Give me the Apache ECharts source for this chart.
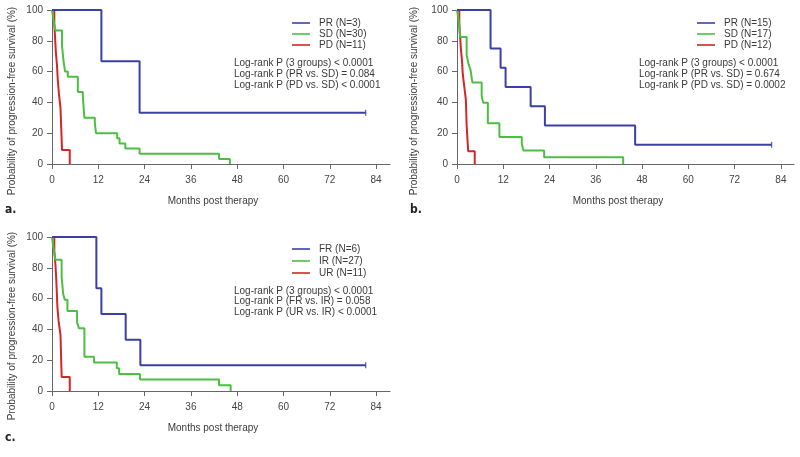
<!DOCTYPE html>
<html><head><meta charset="utf-8">
<script src="https://cdn.jsdelivr.net/npm/echarts@6/dist/echarts.min.js"></script>
<style>html,body{margin:0;padding:0;background:#fff}#c{width:800px;height:457px}</style>
</head><body><div id="c"></div>
<script>
// ---------- tick labels ----------
const xTicks = [0, 12, 24, 36, 48, 60, 72, 84];
const yTicks = [0, 20, 40, 60, 80, 100];

// ---------- panel a ----------
const aPrTime = [0, 12.8, 22.7, 81.3];
const aPrSurv = [100, 66.7, 33.3, 33.3];
const aSdTime = [0, 0.4, 0.9, 2.6, 3.0, 3.4, 4.1, 6.7, 8.0, 8.4, 11.1, 11.4, 16.9, 17.5, 19.0, 22.7, 43.3, 46.1];
const aSdSurv = [100, 93.3, 86.7, 76.7, 66.7, 60.0, 56.7, 46.7, 43.3, 30.0, 26.7, 20.0, 16.7, 13.3, 10.0, 6.7, 3.3, 0];
const aPdTime = [0, 0.6, 0.8, 1.0, 1.3, 1.5, 1.8, 2.2, 2.6, 4.6];
const aPdSurv = [100, 90.9, 81.8, 72.7, 63.6, 54.5, 45.5, 36.4, 9.1, 0];
const aLegend = ['PR (N=3)', 'SD (N=30)', 'PD (N=11)'];
const aStats = ['Log-rank P (3 groups) < 0.0001', 'Log-rank P (PR vs. SD) = 0.084', 'Log-rank P (PD vs. SD) < 0.0001'];

// ---------- panel b ----------
const bPrTime = [0, 8.7, 11.3, 12.6, 19.1, 22.8, 46.2, 81.6];
const bPrSurv = [100, 75, 62.5, 50, 37.5, 25, 12.5, 12.5];
const bSdTime = [0, 0.4, 0.8, 2.5, 3.0, 3.5, 4.0, 6.4, 6.8, 8.0, 11.0, 16.8, 17.2, 22.6, 43.1];
const bSdSurv = [100, 94.1, 82.4, 70.6, 64.7, 61.2, 52.9, 44.1, 39.7, 26.5, 17.6, 13.2, 8.8, 4.4, 0];
const bPdTime = [0, 0.6, 0.8, 1.0, 1.3, 1.5, 1.9, 2.3, 2.5, 2.9, 4.6];
const bPdSurv = [100, 91.7, 83.3, 75, 66.7, 58.3, 50, 41.7, 25, 8.3, 0];
const bLegend = ['PR (N=15)', 'SD (N=17)', 'PD (N=12)'];
const bStats = ['Log-rank P (3 groups) < 0.0001', 'Log-rank P (PR vs. SD) = 0.674', 'Log-rank P (PD vs. SD) = 0.0002'];

// ---------- panel c ----------
const cFrTime = [0, 11.5, 12.8, 19.1, 22.9, 81.3];
const cFrSurv = [100, 66.7, 50, 33.3, 16.7, 16.7];
const cIrTime = [0, 0.4, 0.9, 2.5, 2.9, 3.3, 4.0, 6.5, 7.0, 8.4, 10.9, 16.8, 17.4, 22.8, 43.3, 46.3];
const cIrSurv = [100, 92.6, 85.2, 74.1, 63.0, 59.3, 51.9, 44.4, 40.7, 22.2, 18.5, 14.8, 11.1, 7.4, 3.7, 0];
const cUrTime = [0, 0.6, 0.9, 1.1, 1.4, 1.7, 2.2, 2.5, 4.6];
const cUrSurv = [100, 90.9, 81.8, 72.7, 54.5, 45.5, 36.4, 9.1, 0];
const cLegend = ['FR (N=6)', 'IR (N=27)', 'UR (N=11)'];
const cStats = ['Log-rank P (3 groups) < 0.0001', 'Log-rank P (FR vs. IR) = 0.058', 'Log-rank P (UR vs. IR) < 0.0001'];

const panelLetters = ['a.', 'b.', 'c.'];
const xTitle = 'Months post therapy';
const yTitle = 'Probability of progression-free survival (%)';

// ---------- styling / layout ----------
const COLORS = ['#3d3fa8', '#4cbf42', '#d42626'];
const FONT = "'Liberation Sans', Arial, Helvetica, sans-serif";
const AXIS_COL = '#666';
const TEXT_COL = '#3a3a3a';

const panels = [
  { grid: { left: 52, top: 10, width: 338, height: 154 }, xMax: 87.6,
    series: [[aPrTime, aPrSurv], [aSdTime, aSdSurv], [aPdTime, aPdSurv]],
    legend: aLegend, stats: aStats,
    legX: 292, legY: [23, 34, 45], statX: 234, statY: [63, 74, 85],
    xTitlePos: [213, 201], yTitlePos: [12, 101], letterPos: [5, 210] },
  { grid: { left: 457, top: 10, width: 337, height: 154 }, xMax: 87.4,
    series: [[bPrTime, bPrSurv], [bSdTime, bSdSurv], [bPdTime, bPdSurv]],
    legend: bLegend, stats: bStats,
    legX: 697, legY: [23, 34, 45], statX: 639, statY: [63, 74, 85],
    xTitlePos: [618, 201], yTitlePos: [414, 101], letterPos: [410, 210] },
  { grid: { left: 52, top: 237, width: 338, height: 154 }, xMax: 87.6,
    series: [[cFrTime, cFrSurv], [cIrTime, cIrSurv], [cUrTime, cUrSurv]],
    legend: cLegend, stats: cStats,
    legX: 292, legY: [249, 261, 273], statX: 234, statY: [291, 301, 312],
    xTitlePos: [213, 428], yTitlePos: [12, 326], letterPos: [5, 438] }
];

const zip = (t, s) => t.map((v, i) => [v, s[i]]);

const grids = [], xAxes = [], yAxes = [], series = [], graphics = [];
panels.forEach((p, pi) => {
  grids.push(Object.assign({ containLabel: false }, p.grid));
  xAxes.push({
    type: 'value', gridIndex: pi, min: 0, max: p.xMax,
    axisLine: { show: true, onZero: false, lineStyle: { color: AXIS_COL, width: 1 } },
    axisTick: { show: true, customValues: xTicks, length: 5, lineStyle: { color: AXIS_COL } },
    axisLabel: { customValues: xTicks, fontSize: 10, color: '#444', margin: 11, fontFamily: FONT },
    splitLine: { show: false }
  });
  yAxes.push({
    type: 'value', gridIndex: pi, min: 0, max: 100, interval: 20,
    axisLine: { show: true, onZero: false, lineStyle: { color: AXIS_COL, width: 1 } },
    axisTick: { show: true, length: 5, lineStyle: { color: AXIS_COL } },
    axisLabel: { customValues: yTicks, fontSize: 10, color: '#444', margin: 9, fontFamily: FONT },
    splitLine: { show: false }
  });
  p.series.forEach((ts, si) => {
    series.push({
      type: 'line', name: p.legend[si], xAxisIndex: pi, yAxisIndex: pi,
      step: 'end', showSymbol: false, silent: true, animation: false,
      data: zip(ts[0], ts[1]),
      lineStyle: { color: COLORS[si], width: 2 }, z: 5 - si
    });
  });
  // censor mark at end of first (top) curve
  const t0 = p.series[0][0], s0 = p.series[0][1];
  series.push({
    type: 'scatter', xAxisIndex: pi, yAxisIndex: pi, silent: true, animation: false,
    symbol: 'rect', symbolSize: [1.3, 6],
    itemStyle: { color: COLORS[0] },
    data: [[t0[t0.length - 1], s0[s0.length - 1]]]
  });
  // legend
  p.legend.forEach((name, li) => {
    graphics.push({ type: 'line', shape: { x1: p.legX, y1: p.legY[li], x2: p.legX + 18, y2: p.legY[li] },
      style: { stroke: COLORS[li], lineWidth: 1.6 } });
    graphics.push({ type: 'text', x: p.legX + 27, y: p.legY[li],
      style: { text: name, fill: TEXT_COL, font: '10px ' + FONT, textVerticalAlign: 'middle', textAlign: 'left' } });
  });
  p.stats.forEach((s, li) => {
    graphics.push({ type: 'text', x: p.statX, y: p.statY[li],
      style: { text: s, fill: TEXT_COL, font: '10px ' + FONT, textVerticalAlign: 'middle', textAlign: 'left' } });
  });
  graphics.push({ type: 'text', x: p.xTitlePos[0], y: p.xTitlePos[1],
    style: { text: xTitle, fill: TEXT_COL, font: '10px ' + FONT, textAlign: 'center', textVerticalAlign: 'middle' } });
  graphics.push({ type: 'text', x: p.yTitlePos[0], y: p.yTitlePos[1], rotation: Math.PI / 2,
    style: { text: yTitle, fill: TEXT_COL, font: '10px ' + FONT, textAlign: 'center', textVerticalAlign: 'middle' } });
  graphics.push({ type: 'text', x: p.letterPos[0], y: p.letterPos[1],
    style: { text: panelLetters[pi], fill: '#222', font: "bold 12px 'Liberation Sans Narrow', 'DejaVu Sans Condensed', sans-serif", textAlign: 'left', textVerticalAlign: 'middle' } });
});

const chart = echarts.init(document.getElementById('c'), null, { renderer: 'canvas' });
chart.setOption({
  backgroundColor: '#fff',
  animation: false,
  grid: grids, xAxis: xAxes, yAxis: yAxes, series: series,
  graphic: { elements: graphics }
});
</script>
</body></html>
